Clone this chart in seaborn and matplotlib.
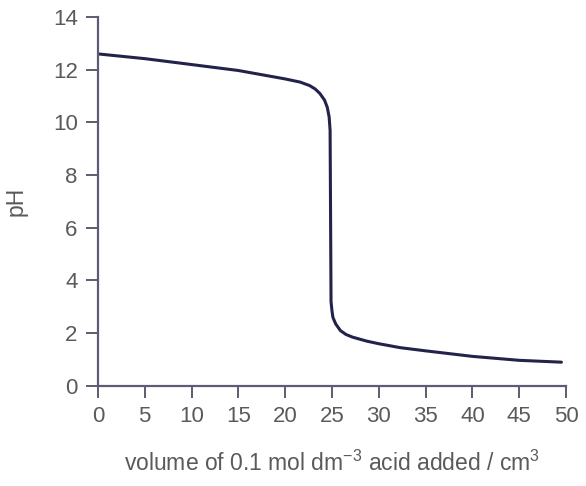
import matplotlib
matplotlib.use("Agg")
import matplotlib.pyplot as plt
import seaborn as sns
import pandas as pd

# titration curve
volume = [0, 5, 8.8, 15, 20, 21.6, 22.6, 23.2, 23.7, 24.2, 24.5, 24.7, 24.8,
          24.85, 24.9, 25.0, 25.1, 25.4, 25.9, 26.5, 27.2, 28.7, 30, 32.3, 35,
          40, 45, 49.5]
ph = [12.6, 12.42, 12.25, 11.97, 11.65, 11.53, 11.4, 11.27, 11.1, 10.85,
      10.57, 10.2, 9.7, 6.5, 3.2, 2.85, 2.6, 2.35, 2.1, 1.95, 1.85, 1.7, 1.6,
      1.45, 1.33, 1.12, 0.97, 0.9]
x_ticks = [0, 5, 10, 15, 20, 25, 30, 35, 40, 45, 50]
y_ticks = [0, 2, 4, 6, 8, 10, 12, 14]

sns.set_theme(style="ticks")
plt.rcParams['font.family'] = ['Liberation Sans', 'DejaVu Sans']
plt.rcParams['mathtext.fontset'] = 'custom'
plt.rcParams['mathtext.rm'] = 'Liberation Sans'
plt.rcParams['mathtext.it'] = 'Liberation Sans'

text_col = '#5a5a5a'
spine_col = '#5c5c72'

df = pd.DataFrame({'volume': volume, 'pH': ph})

fig = plt.figure(figsize=(5.86, 4.86), dpi=100)
ax = fig.add_axes([0.167, 0.206, 0.799, 0.759])
sns.lineplot(data=df, x='volume', y='pH', ax=ax, color='#22224a', linewidth=2.2,
             sort=False)

ax.set_xlim(0, 50)
ax.set_ylim(0, 14)
ax.set_xticks(x_ticks)
ax.set_yticks(y_ticks)
ax.tick_params(axis='both', colors=spine_col, labelcolor=text_col, labelsize=16,
               length=8.5, width=1.4)
ax.tick_params(axis='y', pad=6)
ax.tick_params(axis='x', pad=6)
sns.despine(ax=ax)
for side in ['left', 'bottom']:
    ax.spines[side].set_color(spine_col)
    ax.spines[side].set_linewidth(1.6)
    ax.spines[side].set_clip_on(False)

ax.set_xlabel(r'volume of 0.1 mol dm$^{-3}$ acid added / cm$^{3}$',
              fontsize=16.5, color=text_col, labelpad=17)
ax.set_ylabel('pH', fontsize=16.5, color=text_col, labelpad=18)

fig.savefig('out.png', dpi=100)
